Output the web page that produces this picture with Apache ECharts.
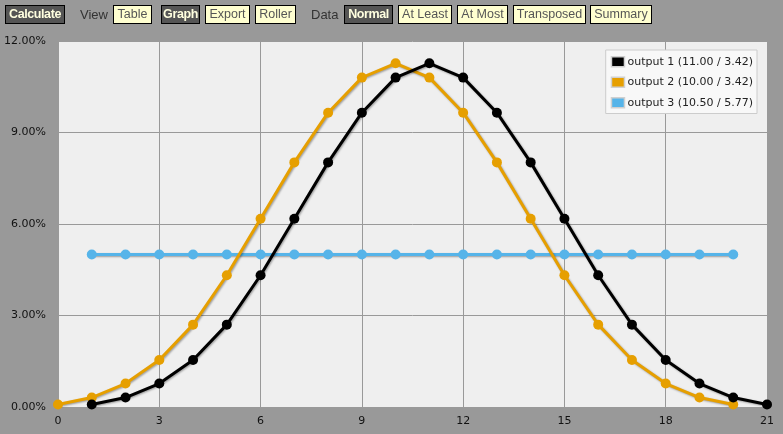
<!DOCTYPE html>
<html><head><meta charset="utf-8">
<script src="https://cdn.jsdelivr.net/npm/echarts@6/dist/echarts.min.js"></script>
<style>
html,body{margin:0;padding:0;background:#999999;width:783px;height:434px;overflow:hidden;font-family:"Liberation Sans",Arial,sans-serif;}
#bar{position:absolute;left:0;top:0;width:783px;height:30px;}
.b{position:absolute;top:5px;height:17px;line-height:17px;border:1px solid #000;font-size:12.5px;text-align:center;box-sizing:content-box;}
.on{background:#555555;color:#ffffe0;font-weight:bold;letter-spacing:-0.4px;}
.off{background:#ffffd0;color:#555;}
.t{position:absolute;top:5px;line-height:19px;font-size:13px;color:#333;}
#chart{position:absolute;left:0;top:0;width:783px;height:434px;}
</style></head>
<body>
<div id="chart"></div>
<div id="bar">
<div class="b on" style="left:5px;width:58px">Calculate</div>
<div class="t" style="left:80px">View</div>
<div class="b off" style="left:113px;width:37px">Table</div>
<div class="b on" style="left:161px;width:37px">Graph</div>
<div class="b off" style="left:205px;width:43px">Export</div>
<div class="b off" style="left:255px;width:39px">Roller</div>
<div class="t" style="left:311px">Data</div>
<div class="b on" style="left:344px;width:47px">Normal</div>
<div class="b off" style="left:398px;width:52px">At Least</div>
<div class="b off" style="left:457px;width:49px">At Most</div>
<div class="b off" style="left:513px;width:71px">Transposed</div>
<div class="b off" style="left:590px;width:60px">Summary</div>
</div>
<script>
const names = ["output 1 (11.00 / 3.42)", "output 2 (10.00 / 3.42)", "output 3 (10.50 / 5.77)"];
const colors = ["#000000", "#E69F00", "#56B4E9"];
const xs1 = [1,2,3,4,5,6,7,8,9,10,11,12,13,14,15,16,17,18,19,20,21];
const ys1 = [0.08,0.31,0.77,1.54,2.70,4.32,6.17,8.02,9.65,10.80,11.27,10.80,9.65,8.02,6.17,4.32,2.70,1.54,0.77,0.31,0.08];
const xs2 = [0,1,2,3,4,5,6,7,8,9,10,11,12,13,14,15,16,17,18,19,20];
const ys2 = [0.08,0.31,0.77,1.54,2.70,4.32,6.17,8.02,9.65,10.80,11.27,10.80,9.65,8.02,6.17,4.32,2.70,1.54,0.77,0.31,0.08];
const xs3 = [1,2,3,4,5,6,7,8,9,10,11,12,13,14,15,16,17,18,19,20];
const ys3 = [5,5,5,5,5,5,5,5,5,5,5,5,5,5,5,5,5,5,5,5];
const xTicks = [0,3,6,9,12,15,18,21];
const yTicks = [0,3,6,9,12];

const zip = (a,b)=>a.map((v,i)=>[v,b[i]]);
const chart = echarts.init(document.getElementById('chart'));
const mk = (i, xs, ys)=>({
  name: names[i], type:'line', data: zip(xs,ys),
  symbol:'circle', symbolSize:10, z: 3-i,
  lineStyle:{width:3, color:colors[i], shadowColor:'rgba(0,0,0,0.35)', shadowBlur:2, shadowOffsetY:1, shadowOffsetX:1},
  itemStyle:{color:colors[i]},
  animation:false
});
chart.setOption({
  animation:false,
  textStyle:{fontFamily:'"DejaVu Sans", Verdana, sans-serif'},
  grid:{left:58, right:16, top:41, bottom:27, show:true, backgroundColor:'#efefef', borderWidth:0},
  xAxis:{type:'value', min:0, max:21, interval:3,
    axisLine:{show:false}, axisTick:{show:false},
    splitLine:{lineStyle:{color:'#999999', width:1}},
    axisLabel:{color:'#111', fontSize:11, margin:9, fontFamily:'"DejaVu Sans", Verdana, sans-serif'}},
  yAxis:{type:'value', min:0, max:12, interval:3,
    axisLine:{show:false}, axisTick:{show:false},
    splitLine:{lineStyle:{color:'#999999', width:1}},
    axisLabel:{color:'#111', fontSize:11, margin:12, formatter:v=>v.toFixed(2)+'%', fontFamily:'"DejaVu Sans", Verdana, sans-serif'}},
  legend:{orient:'vertical', right:26, top:50, data:names,
    backgroundColor:'#f8f8f8', borderColor:'#cccccc', borderWidth:1, borderRadius:0,
    padding:[6,4,5,5], itemGap:9, itemWidth:13, itemHeight:10, icon:'rect',
    itemStyle:{borderColor:'#d0d0d0', borderWidth:1.5},
    textStyle:{fontSize:11, color:'#222', fontFamily:'"DejaVu Sans", Verdana, sans-serif', padding:[0,0,0,-2]}},
  series:[mk(0,xs1,ys1), mk(1,xs2,ys2), mk(2,xs3,ys3)]
});
</script>
</body></html>
